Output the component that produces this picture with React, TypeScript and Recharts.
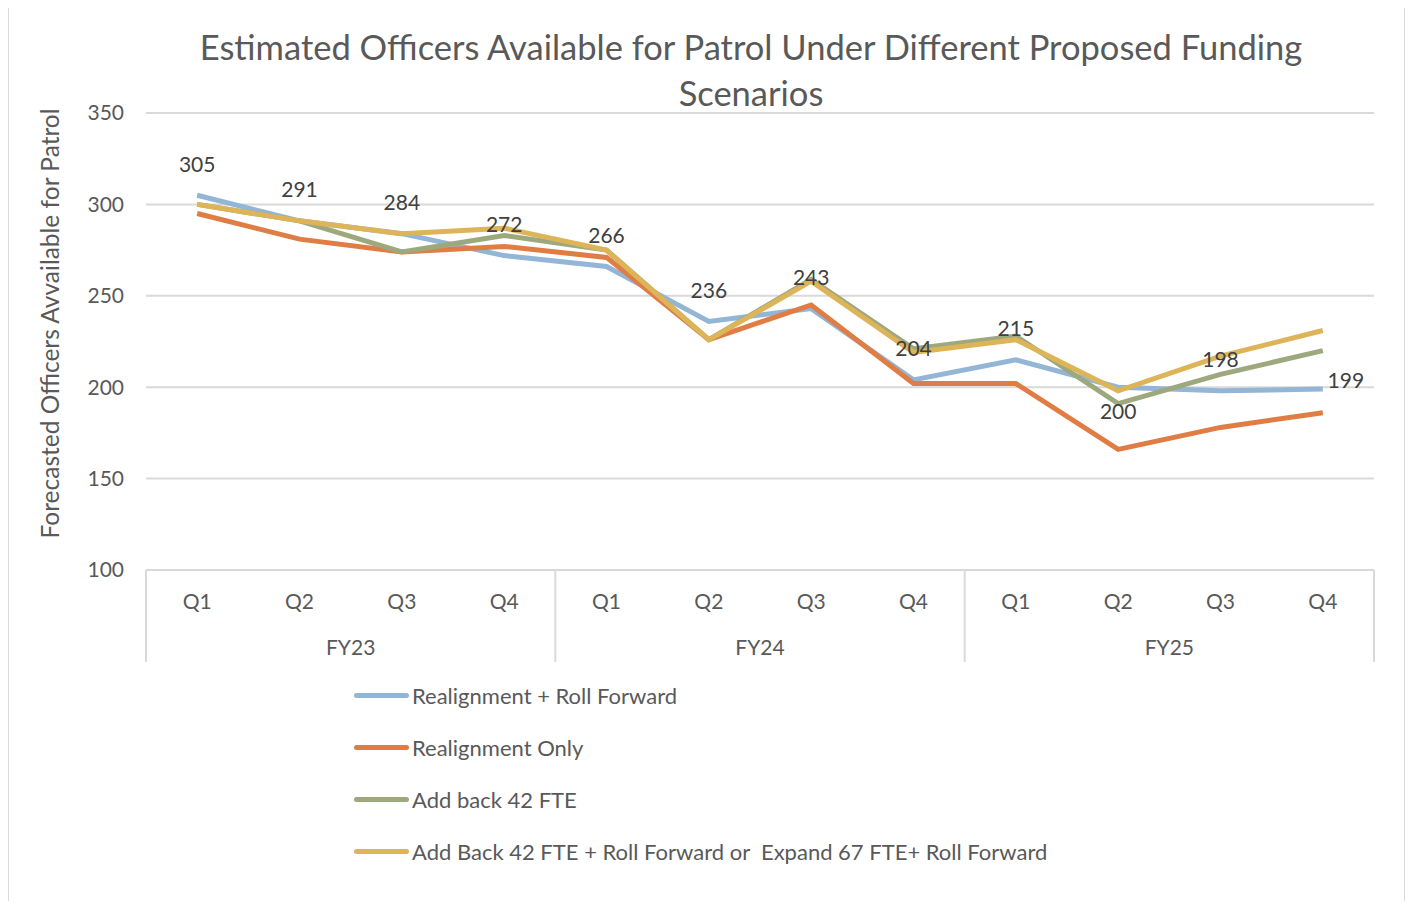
import React from 'react';
import { LineChart, Line, XAxis, YAxis, CartesianGrid, Legend, LabelList } from 'recharts';

const years = ['FY23', 'FY24', 'FY25'];
const quarters = ['Q1', 'Q2', 'Q3', 'Q4'];

const realignRoll = [305, 291, 284, 272, 266, 236, 243, 204, 215, 200, 198, 199];
const realignOnly = [295, 281, 274, 277, 271, 226, 245, 202, 202, 166, 178, 186];
const addBack42 = [300, 291, 274, 283, 275, 226, 259, 221, 228, 191, 207, 220];
const addBackRoll = [300, 291, 284, 287, 275, 226, 258, 219, 226, 198, 217, 231];

const yTicks = [100, 150, 200, 250, 300, 350];

const SERIES = [
    { key: 'realignRoll', name: 'Realignment + Roll Forward', color: '#93B5D6', values: realignRoll },
    { key: 'realignOnly', name: 'Realignment Only', color: '#E07D44', values: realignOnly },
    { key: 'addBack42', name: 'Add back 42 FTE', color: '#9DA97C', values: addBack42 },
    { key: 'addBackRoll', name: 'Add Back 42 FTE + Roll Forward or  Expand 67 FTE+ Roll Forward', color: '#DDB457', values: addBackRoll },
];

const data = [];
years.forEach((fy, yi) => {
    quarters.forEach((q, qi) => {
        const i = yi * 4 + qi;
        const row = { id: `${fy}-${q}`, fy, q };
        SERIES.forEach(s => { row[s.key] = s.values[i]; });
        data.push(row);
    });
});

const FONT = 'Lato, "Open Sans", sans-serif';
const TEXT = '#595959';
const GRID = '#d9d9d9';

// two-level category axis: quarter, then fiscal year with separators
const CategoryTick = (props) => {
    const { x, y, payload, index } = props;
    const half = payload && payload.offset ? payload.offset : 51.17;
    const row = data[index] || {};
    const top = y - 8;
    const bottom = top + 92;
    return (
        <g>
            <text x={x} y={top + 30} textAnchor="middle" dominantBaseline="central"
                fill={TEXT} style={{ fontSize: 21, fontFamily: FONT }}>
                {row.q}
            </text>
            {index % 4 === 1 && (
                <text x={x + half} y={top + 76} textAnchor="middle" dominantBaseline="central"
                    fill={TEXT} style={{ fontSize: 21, fontFamily: FONT }}>
                    {row.fy}
                </text>
            )}
            {index % 4 === 0 && (
                <line x1={x - half} x2={x - half} y1={top} y2={bottom} stroke={GRID} strokeWidth={2} />
            )}
            {index === data.length - 1 && (
                <line x1={x + half} x2={x + half} y1={top} y2={bottom} stroke={GRID} strokeWidth={2} />
            )}
        </g>
    );
};

const PointLabel = (props) => {
    const { x, y, value, index } = props;
    let lx = x;
    let ly = y - 32;
    if (index === 9) ly = y + 23;
    if (index === 11) { lx = x + 23; ly = y - 10; }
    return (
        <text x={lx} y={ly} textAnchor="middle" dominantBaseline="central"
            fill="#404040" style={{ fontSize: 21, fontFamily: FONT }}>
            {value}
        </text>
    );
};

const LegendBox = () => (
    <div>
        {SERIES.map(s => (
            <div key={s.key} style={{ display: 'flex', alignItems: 'center', height: 52 }}>
                <span style={{ display: 'inline-block', width: 55, height: 5, borderRadius: 3, background: s.color, marginRight: 3 }} />
                <span style={{ color: TEXT, fontSize: 22, fontFamily: FONT, whiteSpace: 'pre' }}>{s.name}</span>
            </div>
        ))}
    </div>
);

const YLabel = (props) => {
    const { viewBox } = props;
    const cx = viewBox.x + 3;
    const cy = viewBox.y + viewBox.height / 2 - 18;
    return (
        <text x={cx} y={cy} transform={`rotate(-90, ${cx}, ${cy})`} textAnchor="middle"
            dominantBaseline="central" fill={TEXT} style={{ fontSize: 24.5, fontFamily: FONT }}>
            Forecasted Officers Avvailable for Patrol
        </text>
    );
};

const App = () => {
    return (
        <div style={{
            position: 'relative', width: 1399, height: 895, boxSizing: 'border-box',
            borderTop: `2px solid ${GRID}`, borderLeft: `2px solid ${GRID}`, borderRight: `2px solid ${GRID}`,
            background: '#fff', marginTop: -2, marginLeft: -1,
        }}>
            <div style={{
                position: 'absolute', left: 152, width: 1180, top: 16, textAlign: 'center',
                fontFamily: FONT, fontSize: 34.5, lineHeight: '46px', color: TEXT,
            }}>
                Estimated Officers Available for Patrol Under Different Proposed Funding Scenarios
            </div>
            <LineChart width={1395} height={893} data={data}
                margin={{ top: 105, right: 30, left: 37, bottom: 239 }}>
                <CartesianGrid vertical={false} stroke={GRID} strokeWidth={2} />
                <XAxis dataKey="id" scale="band" interval={0} height={92} tickLine={false}
                    axisLine={{ stroke: GRID, strokeWidth: 2 }} tick={<CategoryTick />} />
                <YAxis domain={[100, 350]} ticks={yTicks} width={100} axisLine={false} tickLine={false}
                    tickMargin={16} tick={{ fill: TEXT, fontSize: 21, fontFamily: FONT }}
                    label={{ content: <YLabel /> }} />
                {SERIES.map(s => (
                    <Line key={s.key} type="linear" dataKey={s.key} name={s.name} stroke={s.color}
                        strokeWidth={5} dot={false} activeDot={false} isAnimationActive={false}>
                        {s.key === 'realignRoll' && <LabelList dataKey={s.key} content={<PointLabel />} />}
                    </Line>
                ))}
                <Legend layout="vertical" align="center" verticalAlign="middle" content={<LegendBox />}
                    wrapperStyle={{ left: 345, top: 661, width: 900, height: 210 }} />
            </LineChart>
        </div>
    );
};

export default App;
